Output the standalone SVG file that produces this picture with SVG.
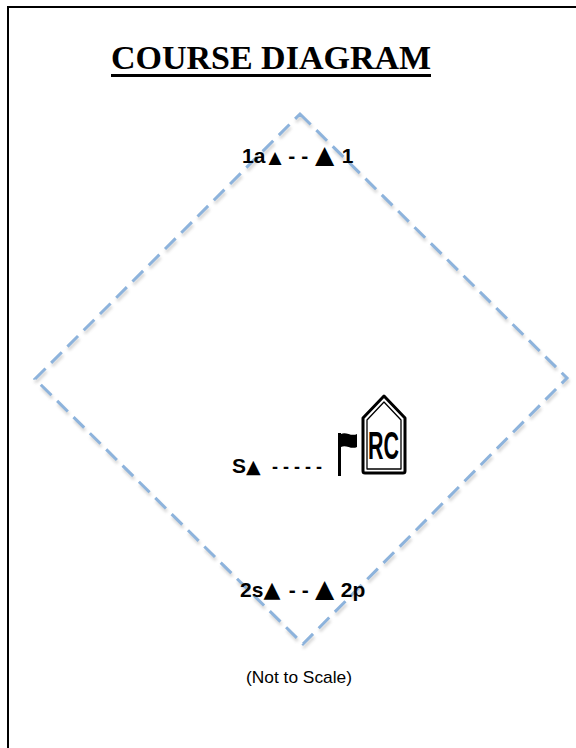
<svg xmlns="http://www.w3.org/2000/svg" width="576" height="748" viewBox="0 0 576 748">
  <style>
    .lbl { font-family: "Liberation Sans", Arial, sans-serif; font-weight: bold; font-size: 21px; fill: #000; }
    .tri { font-family: "DejaVu Sans", sans-serif; font-weight: normal; }
    .course { fill: none; stroke: #8db3dc; stroke-width: 3; stroke-dasharray: 15 8; }
    .shadow { fill: none; stroke: #9a9a9a; stroke-width: 3; stroke-dasharray: 15 8; opacity: 0.45; }
  </style>
  <defs>
    <filter id="blur" x="-10%" y="-10%" width="120%" height="120%">
      <feGaussianBlur stdDeviation="1.6"/>
    </filter>
  </defs>
  <rect x="0" y="0" width="576" height="748" fill="#fff"/>
  <g id="frame" stroke="#000" stroke-width="2">
    <line x1="8" y1="7" x2="576" y2="7"/>
    <line x1="8" y1="6" x2="8" y2="748"/>
  </g>

  <g id="title">
    <text x="271" y="69" text-anchor="middle" font-family="Liberation Serif, 'Times New Roman', serif" font-weight="bold" font-size="34">COURSE DIAGRAM</text>
    <rect x="111" y="74" width="320" height="3" fill="#000"/>
  </g>

  <g id="course-lines">
    <polygon class="shadow" filter="url(#blur)" points="301,117 568,381 304,647 36,382"/>
    <polygon class="course" points="300,114 567,378 303,644 35,379"/>
  </g>

  <g id="mark-1">
    <text class="lbl" y="163"><tspan x="242">1a</tspan><tspan class="tri" x="268.5" font-size="17">▲</tspan><tspan x="282.5"> - - </tspan><tspan class="tri" x="315" font-size="25">▲</tspan><tspan x="336"> 1</tspan></text>
  </g>

  <g id="start-line">
    <text class="lbl" y="473"><tspan x="232">S</tspan><tspan class="tri" x="246" font-size="19">▲</tspan><tspan x="267" font-size="18"> - - - - -</tspan></text>
  </g>

  <g id="flag">
    <rect x="338" y="433" width="3" height="43" fill="#000"/>
    <path d="M341,434 C346,431 351,437 357,434 L357,447 C351,450 346,444 341,447 Z" fill="#000"/>
  </g>

  <g id="rc-boat">
    <path d="M363,471 L363,418 L384,396 L405,418 L405,471 Q405,473 403,473 L365,473 Q363,473 363,471 Z" fill="#fff" stroke="#000" stroke-width="3" stroke-linejoin="round"/>
    <path d="M367,469 L367,420 L384,402 L401,420 L401,469 Z" fill="none" stroke="#000" stroke-width="1.3" stroke-linejoin="round"/>
    <text x="368" y="459" font-family="Liberation Sans, Arial, sans-serif" font-weight="bold" font-size="38" textLength="31" lengthAdjust="spacingAndGlyphs">RC</text>
  </g>

  <g id="mark-2">
    <text class="lbl" y="597"><tspan x="240">2s</tspan><tspan class="tri" x="263.5" font-size="22">▲</tspan><tspan x="283"> - - </tspan><tspan class="tri" x="315" font-size="25">▲</tspan><tspan x="335"> 2p</tspan></text>
  </g>

  <g id="note">
    <text x="299" y="683" text-anchor="middle" font-family="Liberation Sans, Arial, sans-serif" font-size="17" textLength="106" lengthAdjust="spacingAndGlyphs">(Not to Scale)</text>
  </g>
</svg>
